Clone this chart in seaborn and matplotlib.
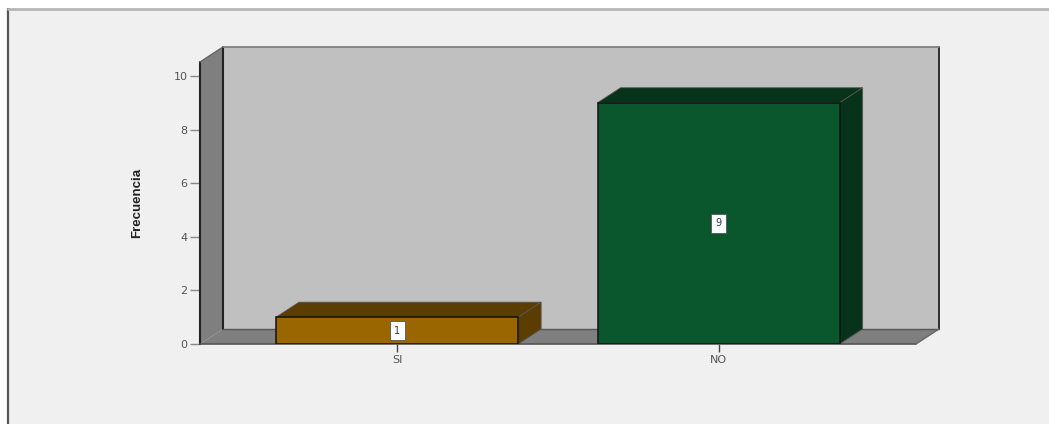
import matplotlib
matplotlib.use("Agg")
import matplotlib.pyplot as plt
import seaborn as sns
from matplotlib.patches import Polygon, Rectangle

categories = ["SI", "NO"]
frecuencia = [1, 9]
y_ticks = [0, 2, 4, 6, 8, 10]
front_colors = ["#996600", "#0a572e"]
dark_colors = ["#5c3d00", "#063319"]

W, H = 1049, 424
DEPTH_X = 23 / 321.5
DEPTH_Y = 15 / 26.8

sns.set_theme(style="white")
plt.rcParams["font.family"] = ["DejaVu Sans"]

fig = plt.figure(figsize=(W / 100, H / 100), dpi=100, facecolor="white")

# panel behind the chart
fig.add_artist(Rectangle((8 / W, 0), 1.1, 1 - 9 / H, transform=fig.transFigure,
                         facecolor="#f0f0f0", edgecolor="none", zorder=-3))
fig.add_artist(plt.Line2D([8 / W, 8 / W], [0, 1 - 9 / H], color="#555555", lw=1.6, zorder=-2))
fig.add_artist(plt.Line2D([8 / W, 1], [1 - 9 / H, 1 - 9 / H], color="#b5b5b5", lw=2, zorder=-2))

# axes = front plane of the 3D box
ax = fig.add_axes([200 / W, 1 - 344 / H, 716 / W, 282 / H])
ax.patch.set_visible(False)

sns.barplot(x=categories, y=frecuencia, hue=categories, palette=front_colors,
            width=0.753, edgecolor="#111111", linewidth=1.1, legend=False,
            saturation=1, ax=ax)

ax.set_xlim(-0.613, 1.614)
ax.set_ylim(0, 10.52)
x0, x1 = ax.get_xlim()
y0, y1 = ax.get_ylim()


def face(points, color, edge="none", lw=0, z=0.5):
    ax.add_patch(Polygon(points, closed=True, facecolor=color, edgecolor=edge,
                         linewidth=lw, clip_on=False, zorder=z))


# walls
face([(x0 + DEPTH_X, y0 + DEPTH_Y), (x1 + DEPTH_X, y0 + DEPTH_Y),
      (x1 + DEPTH_X, y1 + DEPTH_Y), (x0 + DEPTH_X, y1 + DEPTH_Y)], "#c0c0c0")
face([(x0, y0), (x0 + DEPTH_X, y0 + DEPTH_Y),
      (x0 + DEPTH_X, y1 + DEPTH_Y), (x0, y1)], "#7f7f7f")
face([(x0, y0), (x0 + DEPTH_X, y0 + DEPTH_Y),
      (x1 + DEPTH_X, y0 + DEPTH_Y), (x1, y0)], "#7f7f7f")

wall_lines = [
    ([x0, x0], [y0, y1], "#222222", 1.5),
    ([x0 + DEPTH_X, x0 + DEPTH_X], [y0 + DEPTH_Y, y1 + DEPTH_Y], "#222222", 1.5),
    ([x1 + DEPTH_X, x1 + DEPTH_X], [y0 + DEPTH_Y, y1 + DEPTH_Y], "#222222", 1.3),
    ([x0 + DEPTH_X, x1 + DEPTH_X], [y1 + DEPTH_Y, y1 + DEPTH_Y], "#808080", 1.3),
    ([x0, x0 + DEPTH_X], [y1, y1 + DEPTH_Y], "#666666", 1),
    ([x0, x1], [y0, y0], "#555555", 1.2),
    ([x0 + DEPTH_X, x1 + DEPTH_X], [y0 + DEPTH_Y, y0 + DEPTH_Y], "#555555", 1),
    ([x1, x1 + DEPTH_X], [y0, y0 + DEPTH_Y], "#666666", 1),
]
for xs, ys, color, lw in wall_lines:
    ax.plot(xs, ys, color=color, lw=lw, clip_on=False, zorder=0.6)

# top and side of each bar, kept under the front face so its edge stays black
for container, dark in zip(ax.containers, dark_colors):
    for bar in container:
        left = bar.get_x()
        right = left + bar.get_width()
        top = bar.get_height()
        face([(left, top), (left + DEPTH_X, top + DEPTH_Y),
              (right + DEPTH_X, top + DEPTH_Y), (right, top)],
             dark, edge="#555555", lw=0.6, z=0.8)
        face([(right, 0), (right + DEPTH_X, DEPTH_Y),
              (right + DEPTH_X, top + DEPTH_Y), (right, top)],
             dark, edge="#555555", lw=0.6, z=0.8)
    ax.bar_label(container, label_type="center", fontsize=7, color="#333333", zorder=5,
                 bbox=dict(boxstyle="square,pad=0.45", facecolor="white",
                           edgecolor="#555555", linewidth=0.6))

sns.despine(ax=ax, left=True, bottom=True, top=True, right=True)
ax.set_yticks(y_ticks)
ax.tick_params(axis="y", left=True, length=7, width=1, color="#888888", pad=2,
               labelsize=8, labelcolor="#555555")
ax.tick_params(axis="x", bottom=True, length=6, width=1, color="#444444", pad=2,
               labelsize=8, labelcolor="#555555")
ax.set_xlabel("")
ax.set_ylabel("")
fig.text(137 / W, 1 - 203 / H, "Frecuencia", rotation=90, ha="center", va="center",
         fontsize=9.5, fontweight="bold", color="#222222",
         family=["Liberation Sans Narrow", "Liberation Sans", "DejaVu Sans"])

fig.savefig("out.png", dpi=100)
